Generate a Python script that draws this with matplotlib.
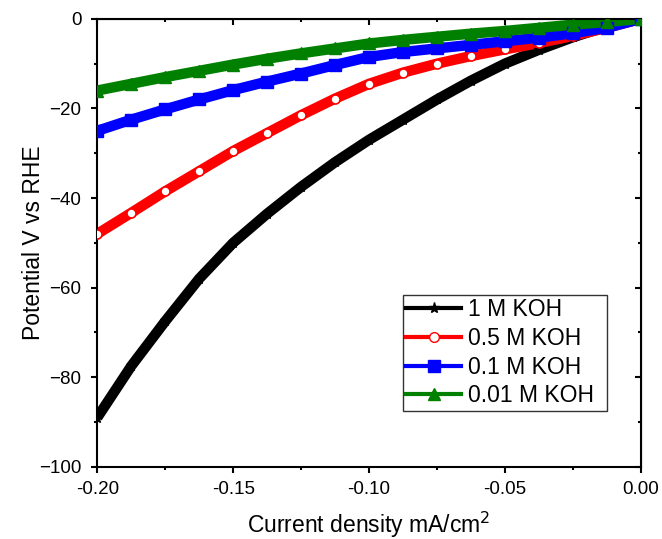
import numpy as np
import matplotlib
matplotlib.use("Agg")
import matplotlib.pyplot as plt
from matplotlib.ticker import MultipleLocator
from matplotlib.lines import Line2D

plt.rcParams['font.family'] = ['Liberation Sans', 'DejaVu Sans']

# values (x = current density, y = potential)
current = [-0.2, -0.1875, -0.175, -0.1625, -0.15, -0.1375, -0.125, -0.1125, -0.1,
           -0.0875, -0.075, -0.0625, -0.05, -0.0375, -0.025, -0.0125, 0.0]
koh_1 = [-89.0, -77.5, -67.5, -58.0, -50.0, -43.5, -37.5, -32.0, -27.0,
         -22.5, -18.0, -13.8, -10.0, -6.9, -4.1, -1.7, 0.0]
koh_05 = [-48.0, -43.3, -38.5, -34.0, -29.5, -25.5, -21.5, -17.8, -14.5,
          -12.0, -10.0, -8.3, -6.8, -5.4, -3.8, -2.0, 0.0]
koh_01 = [-25.0, -22.5, -20.2, -18.0, -15.9, -14.0, -12.2, -10.3, -8.5,
          -7.4, -6.6, -5.8, -5.0, -4.2, -3.2, -2.0, 0.0]
koh_001 = [-16.0, -14.5, -13.0, -11.6, -10.2, -8.9, -7.7, -6.6, -5.5,
           -4.7, -4.0, -3.3, -2.7, -2.0, -1.3, -0.7, 0.0]

labels = ['1 M KOH', '0.5 M KOH', '0.1 M KOH', '0.01 M KOH']
series = [koh_1, koh_05, koh_01, koh_001]
colors = ['black', 'red', 'blue', 'green']
markers = ['*', 'o', 's', '^']

fig = plt.figure(figsize=(6.62, 5.39), dpi=100)
ax = fig.add_axes([0.147, 0.134, 0.821, 0.831])

handles = []
for y, c, m, lab in zip(series, colors, markers, labels):
    ax.plot(current, y, color=c, lw=7.5, solid_capstyle='butt', zorder=2)
    if m == 'o':
        ax.plot(current, y, ls='none', marker=m, ms=6.5, mfc='white', mec=c, mew=1.2, zorder=3)
        handles.append(Line2D([], [], color=c, lw=3, marker=m, ms=7, mfc='white', mec=c, mew=1))
    else:
        ax.plot(current, y, ls='none', marker=m, ms=8, color=c, zorder=3)
        handles.append(Line2D([], [], color=c, lw=3, marker=m, ms=8))

ax.set_xlim(-0.2, 0.0)
ax.set_ylim(-100, 0)
ax.xaxis.set_major_locator(MultipleLocator(0.05))
ax.xaxis.set_minor_locator(MultipleLocator(0.025))
ax.yaxis.set_major_locator(MultipleLocator(20))
ax.yaxis.set_minor_locator(MultipleLocator(10))
ax.xaxis.set_major_formatter(plt.FuncFormatter(lambda v, p: f'{v:.2f}'))

for s in ax.spines.values():
    s.set_linewidth(1.5)
ax.tick_params(which='both', direction='out', width=1.5, labelsize=13.5,
               top=False, right=False)
ax.tick_params(which='major', length=4.5)
ax.tick_params(which='minor', length=2.5)
ax.tick_params(axis='x', pad=6)
ax.tick_params(axis='y', pad=7)
# inward ticks on the top and right edges
ax2 = ax.secondary_xaxis('top')
ax2.xaxis.set_major_locator(MultipleLocator(0.05))
ax2.xaxis.set_minor_locator(MultipleLocator(0.025))
ax2.tick_params(which='both', direction='in', width=1.5, labeltop=False)
ax2.tick_params(which='major', length=4.5)
ax2.tick_params(which='minor', length=2.5)
ax3 = ax.secondary_yaxis('right')
ax3.yaxis.set_major_locator(MultipleLocator(20))
ax3.yaxis.set_minor_locator(MultipleLocator(10))
ax3.tick_params(which='both', direction='in', width=1.5, labelright=False)
ax3.tick_params(which='major', length=4.5)
ax3.tick_params(which='minor', length=2.5)

ax.set_xlabel('Current density mA/cm$^2$', fontsize=16.5, labelpad=8)
ax.set_ylabel('Potential V vs RHE', fontsize=16.5, labelpad=-4)

leg = ax.legend(handles, labels, loc='lower left', bbox_to_anchor=(0.562, 0.125, 0.3755, 0.2),
                mode='expand', fontsize=16.5, fancybox=False, edgecolor='#333333', framealpha=1,
                handlelength=2.4, handletextpad=0.3, borderpad=0.15, labelspacing=0.25,
                borderaxespad=0)
leg.get_frame().set_linewidth(1.0)

fig.savefig('out.png', dpi=100)
